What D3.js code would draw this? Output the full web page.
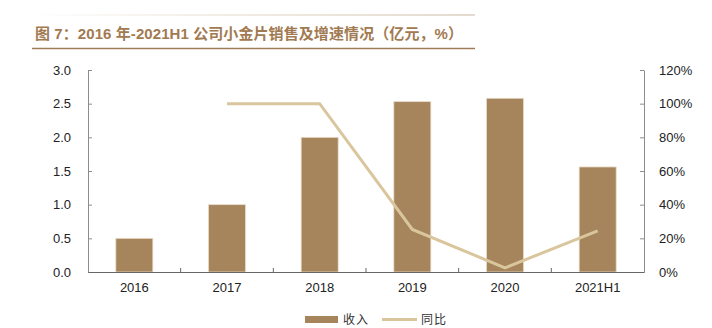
<!DOCTYPE html>
<html><head><meta charset="utf-8">
<script src="https://cdn.jsdelivr.net/npm/d3@7"></script>
<style>body{margin:0;background:#fff;}svg{display:block;}</style>
</head><body>
<svg id="c" width="712" height="328"></svg>
<script>
const categories = ["2016","2017","2018","2019","2020","2021H1"];
const revenue = [0.5, 1.0, 2.0, 2.53, 2.58, 1.56];
const yoy = [null, 100, 100, 25.3, 2.5, 24.4];
const leftTicks = [0,0.5,1.0,1.5,2.0,2.5,3.0];
const rightTicks = [0,20,40,60,80,100,120];
const title = "图 7：2016 年-2021H1 公司小金片销售及增速情况（亿元，%）";
const legendNames = ["收入","同比"];

const svg = d3.select("#c");
const font = "Arial, 'Liberation Sans', 'Noto Sans CJK SC', sans-serif";
const barColor = "#a6845c", lineColor = "#d9c69d", titleColor = "#a27a52";

// header lines
const grad = svg.append("defs").append("linearGradient").attr("id","g");
grad.append("stop").attr("offset","0%").attr("stop-color","#fff");
grad.append("stop").attr("offset","40%").attr("stop-color","#e6dccd");
grad.append("stop").attr("offset","100%").attr("stop-color","#c9b79e");
svg.append("rect").attr("x",32).attr("y",14.5).attr("width",443).attr("height",1).attr("fill","url(#g)");
svg.append("text").attr("x",35).attr("y",39).attr("fill",titleColor)
  .attr("font-family",font).attr("font-size",15).attr("font-weight","bold")
  .attr("textLength",428).attr("lengthAdjust","spacing").text(title);
svg.append("line").attr("x1",32).attr("x2",475).attr("y1",48.5).attr("y2",48.5).attr("stroke","#a07c58").attr("stroke-width",1.5);

const x0 = 88, x1 = 644, yTop = 70, yBot = 272;
const xb = d3.scaleBand().domain(categories).range([x0,x1]);
const yL = d3.scaleLinear().domain([0,3]).range([yBot,yTop]);
const yR = d3.scaleLinear().domain([0,120]).range([yBot,yTop]);

// bars
svg.append("g").selectAll("rect").data(revenue).join("rect")
  .attr("x",(d,i)=>xb(categories[i])+xb.bandwidth()/2-18.5)
  .attr("width",37)
  .attr("y",d=>yL(d)).attr("height",d=>yBot-yL(d))
  .attr("fill",barColor).attr("stroke","#e9dcc8").attr("stroke-width",0.8);

// left axis
const gl = svg.append("g").attr("transform",`translate(${x0},0)`)
  .call(d3.axisLeft(yL).tickValues(leftTicks).tickFormat(d3.format(".1f")).tickSizeInner(-4).tickSizeOuter(0).tickPadding(17));
gl.select(".domain").attr("stroke","#8c8c8c");
gl.selectAll(".tick line").attr("stroke","#8c8c8c");
gl.selectAll("text").attr("font-family",font).attr("font-size",13).attr("fill","#222");

// right axis
const gr = svg.append("g").attr("transform",`translate(${x1},0)`)
  .call(d3.axisRight(yR).tickValues(rightTicks).tickFormat(d=>d+"%").tickSizeInner(-4).tickSizeOuter(0).tickPadding(15));
gr.select(".domain").attr("stroke","#8c8c8c");
gr.selectAll(".tick line").attr("stroke","#8c8c8c");
gr.selectAll("text").attr("font-family",font).attr("font-size",13).attr("fill","#222");

// x axis
const gx = svg.append("g").attr("transform",`translate(0,${yBot})`)
  .call(d3.axisBottom(xb).tickSize(0).tickPadding(11));
gx.select(".domain").attr("stroke","#666").attr("stroke-width",1.2);
gx.selectAll("text").attr("font-family",font).attr("font-size",13).attr("fill","#222");
gx.selectAll(".sep").data(categories.slice(1)).join("line").attr("class","sep")
  .attr("x1",d=>xb(d)).attr("x2",d=>xb(d)).attr("y1",0).attr("y2",-4).attr("stroke","#666");

// line
const line = d3.line().defined(d=>d!==null)
  .x((d,i)=>xb(categories[i])+xb.bandwidth()/2).y(d=>yR(d));
svg.append("path").datum(yoy).attr("d",line).attr("fill","none")
  .attr("stroke",lineColor).attr("stroke-width",3).attr("stroke-linejoin","miter");

// legend
const lg = svg.append("g");
lg.append("rect").attr("x",305).attr("y",316).attr("width",33).attr("height",7).attr("fill",barColor);
lg.append("text").attr("x",343).attr("y",324).text(legendNames[0]);
lg.append("line").attr("x1",382).attr("x2",417).attr("y1",319.5).attr("y2",319.5).attr("stroke",lineColor).attr("stroke-width",3);
lg.append("text").attr("x",421).attr("y",324).text(legendNames[1]);
lg.selectAll("text").attr("font-family",font).attr("font-size",12).attr("fill","#333").attr("letter-spacing",1);
</script>
</body></html>
